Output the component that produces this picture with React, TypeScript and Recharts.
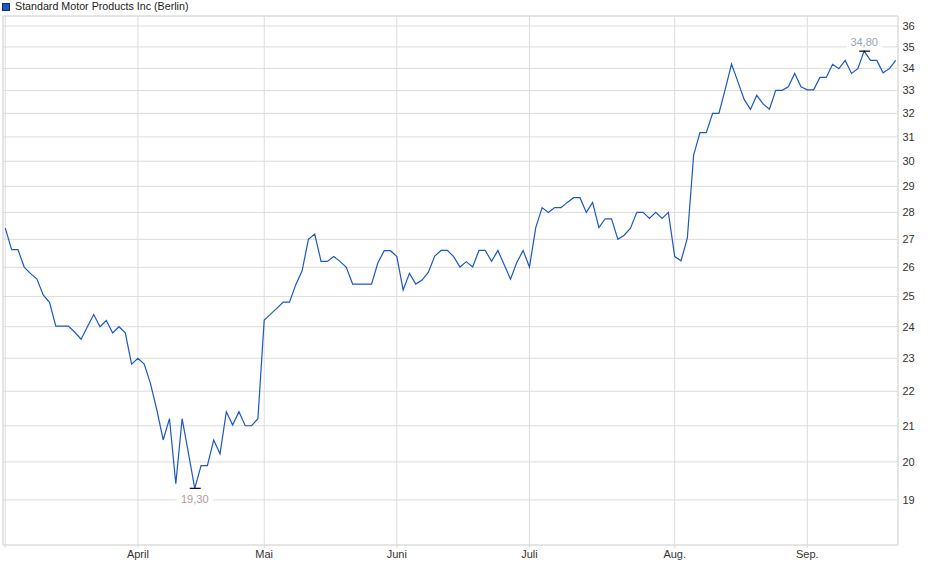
import React from "react";
import { LineChart, Line, XAxis, YAxis, CartesianGrid, ReferenceLine } from "recharts";

const title = "Standard Motor Products Inc (Berlin)";

const prices: number[] = [
  27.41, 26.63, 26.63, 26.01, 25.78, 25.6, 25.05, 24.8, 24.02, 24.02,
  24.02, 23.82, 23.6, 24.0, 24.4, 24.0, 24.2, 23.8, 24.0, 23.8,
  22.82, 23.0, 22.82, 22.22, 21.45, 20.6, 21.2, 19.42, 21.2, 20.24,
  19.3, 19.9, 19.9, 20.6, 20.22, 21.4, 21.02, 21.4, 21.0, 21.0,
  21.2, 24.22, 24.41, 24.6, 24.81, 24.81, 25.4, 25.88, 27.0, 27.19,
  26.21, 26.21, 26.38, 26.21, 26.0, 25.42, 25.42, 25.42, 25.42, 26.16,
  26.59, 26.59, 26.38, 25.22, 25.79, 25.42, 25.56, 25.83, 26.4, 26.6,
  26.6, 26.38, 26.01, 26.2, 26.01, 26.6, 26.6, 26.21, 26.6, 26.09,
  25.59, 26.17, 26.6, 26.01, 27.43, 28.18, 28.0, 28.18, 28.18, 28.38,
  28.56, 28.56, 28.0, 28.38, 27.43, 27.76, 27.76, 27.0, 27.15, 27.41,
  28.0, 28.0, 27.77, 28.0, 27.77, 28.0, 26.38, 26.23, 27.04, 30.25,
  31.18, 31.18, 32.0, 32.0, 33.05, 34.2, 33.4, 32.61, 32.17, 32.79,
  32.41, 32.18, 33.01, 33.01, 33.17, 33.77, 33.17, 33.03, 33.03, 33.59,
  33.59, 34.19, 33.99, 34.37, 33.77, 33.99, 34.8, 34.37, 34.37, 33.8,
  33.99, 34.37,
];

const monthTickIndex: number[] = [0, 21, 41, 62, 83, 106, 127];
const monthTickLabel: string[] = ["", "April", "Mai", "Juni", "Juli", "Aug.", "Sep."];
const priceTicks: number[] = [19, 20, 21, 22, 23, 24, 25, 26, 27, 28, 29, 30, 31, 32, 33, 34, 35, 36];

const data = prices.map((v, i) => ({ i, v }));

const minIdx = prices.indexOf(Math.min(...prices));
const maxIdx = prices.indexOf(Math.max(...prices));

const X_MIN = -0.364;
const X_MAX = 141.36;
const Y_MIN = 17.88;
const Y_MAX = 36.49;

const FONT = '"Liberation Sans", Arial, sans-serif';
const LINE_COLOR = "#1c58c4";
const GRID = "#dcdcdc";

const fmt = (v: number) => v.toFixed(2).replace(".", ",");

const renderDot = (props: any) => {
  const { cx, cy, index } = props;
  const key = `dot-${index}`;
  if (index !== minIdx && index !== maxIdx) return <g key={key} />;
  const isMin = index === minIdx;
  const textY = isMin ? cy + 11 : cy - 9;
  const color = isMin ? "#b09c9c" : "#98a4b6";
  return (
    <g key={key}>
      <rect x={cx - 18} y={textY - 6} width={36} height={12} fill="#ffffff" />
      <line x1={cx - 5} x2={cx + 6} y1={cy} y2={cy} stroke="#000" strokeWidth={1.2} />
      <text
        x={cx}
        y={textY}
        dy="0.35em"
        textAnchor="middle"
        fontSize={11}
        fontFamily={FONT}
        fill={color}
      >
        {fmt(prices[index])}
      </text>
    </g>
  );
};

export default function App() {
  return (
    <div
      style={{
        position: "absolute",
        left: 0,
        top: 0,
        width: 940,
        height: 579,
        background: "#ffffff",
        fontFamily: FONT,
      }}
    >
      <div
        style={{
          position: "absolute",
          left: 2,
          top: 3,
          width: 6,
          height: 6,
          background: "#1f57c3",
          border: "1px solid #102f6a",
        }}
      />
      <div
        style={{
          position: "absolute",
          left: 15,
          top: 0,
          fontSize: 10.7,
          lineHeight: "13px",
          color: "#222",
          whiteSpace: "nowrap",
        }}
      >
        {title}
      </div>
      <LineChart
        width={940}
        height={579}
        data={data}
        margin={{ top: 16, right: 0, bottom: 0, left: 3 }}
      >
        <CartesianGrid stroke={GRID} strokeWidth={1} />
        <XAxis
          type="number"
          dataKey="i"
          domain={[X_MIN, X_MAX]}
          allowDataOverflow
          ticks={monthTickIndex}
          interval={0}
          tickFormatter={(v: number) => monthTickLabel[monthTickIndex.indexOf(v)] ?? ""}
          height={34}
          axisLine={{ stroke: GRID }}
          tickLine={{ stroke: GRID }}
          tickSize={3}
          tickMargin={2}
          tick={{ fill: "#333", fontSize: 11, fontFamily: FONT }}
        />
        <YAxis
          orientation="right"
          type="number"
          scale="log"
          domain={[Y_MIN, Y_MAX]}
          allowDataOverflow
          ticks={priceTicks}
          interval={0}
          width={42}
          axisLine={false}
          tickLine={false}
          tickSize={0}
          tickMargin={4.5}
          tick={{ fill: "#333", fontSize: 11, fontFamily: FONT, textAnchor: "start" }}
        />
        <ReferenceLine y={Y_MAX} stroke={GRID} ifOverflow="visible" />
        <ReferenceLine x={X_MIN} stroke={GRID} ifOverflow="visible" />
        <ReferenceLine x={X_MAX} stroke={GRID} ifOverflow="visible" />
        <Line
          type="linear"
          dataKey="v"
          stroke={LINE_COLOR}
          strokeWidth={1.2}
          dot={renderDot}
          activeDot={false}
          isAnimationActive={false}
        />
      </LineChart>
    </div>
  );
}
